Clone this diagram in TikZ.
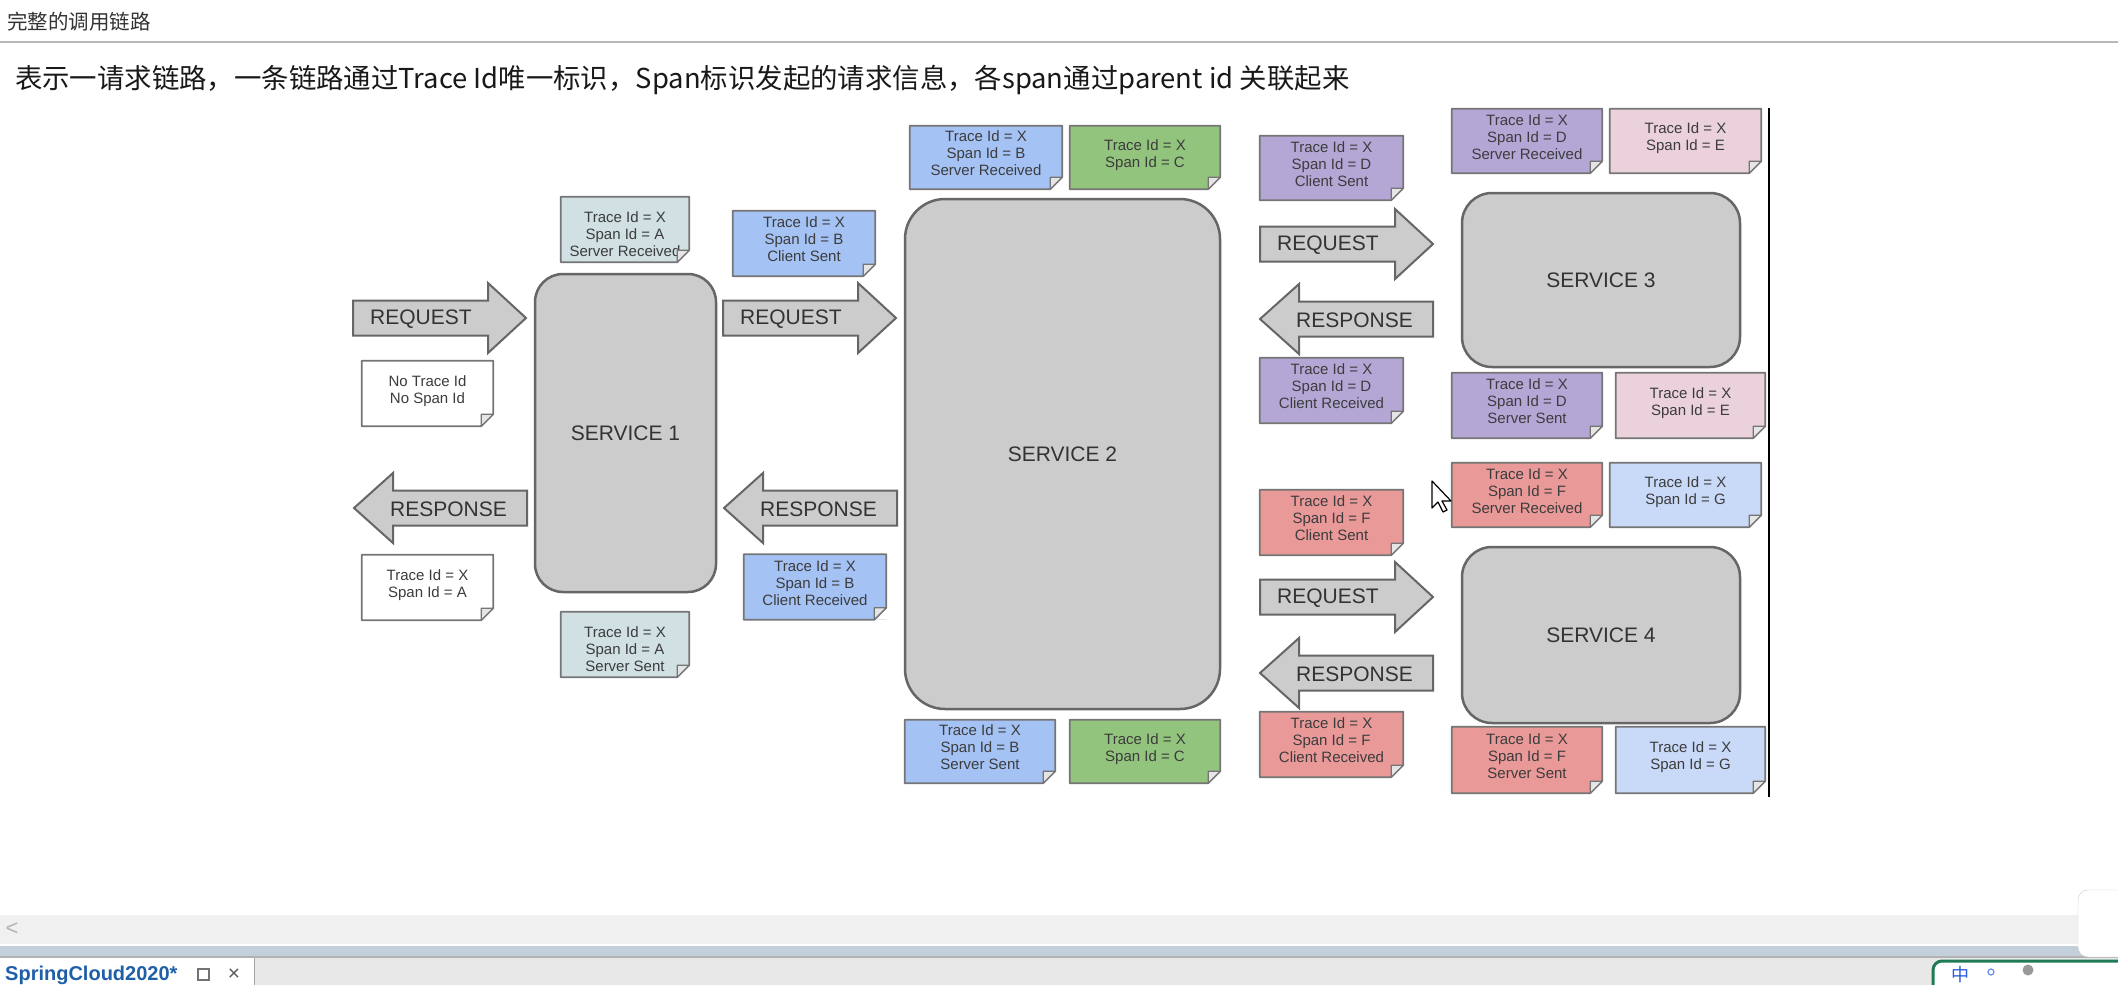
\documentclass[tikz,border=0pt]{standalone}
\usepackage{fontspec}
\setmainfont{Liberation Sans}
\newfontfamily\cjkfont{Noto Sans CJK SC}
\usepackage{tikz}
\usetikzlibrary{calc}

\definecolor{servfill}{HTML}{CCCCCC}
\definecolor{servline}{HTML}{666666}
\definecolor{labeltext}{HTML}{333333}
\definecolor{notetext}{HTML}{3C3C3C}
\definecolor{spanA}{HTML}{D0E0E3}
\definecolor{spanB}{HTML}{A4C2F4}
\definecolor{spanC}{HTML}{93C47D}
\definecolor{spanD}{HTML}{B4A7D6}
\definecolor{spanE}{HTML}{EAD1DC}
\definecolor{spanF}{HTML}{EA9999}
\definecolor{spanG}{HTML}{C9DAF8}
\definecolor{tabblue}{HTML}{1F5FA8}
\definecolor{bandblue}{HTML}{C3CFDB}
\definecolor{imegreen}{HTML}{1F7A55}
\definecolor{imeblue}{HTML}{2A5BD7}

\tikzset{
  service/.style={draw=servline, line width=2.5pt, fill=servfill, text=labeltext,
    font=\fontsize{21}{25}\selectfont},
  spanbox/.style={fill=#1, inner sep=0pt, align=center, text=notetext, text depth=8pt,
    font=\fontsize{15}{17}\selectfont},
  lowtext/.style={text depth=0pt, text height=53pt},
  blockarrow/.style={draw=servline, line width=2pt, fill=servfill},
  arrowlabel/.style={inner sep=0pt, text=labeltext, font=\fontsize{21}{25}\selectfont},
}

% span note with a folded corner: [extra options], name, colour, centre, width, height, text
\newcommand\spannote[7][]{%
  \node[spanbox=#3, minimum width=#5pt, minimum height=#6pt, #1] (#2) at (#4) {#7};
  \path[fill=white] ($(#2.south east)+(-12,0)$) -- (#2.south east) -- ($(#2.south east)+(0,-12)$) -- cycle;
  \path[draw=servline!90, line width=1.8pt, line join=round]
    (#2.north west) -- (#2.north east) -- ($(#2.south east)+(0,-12)$)
    -- ($(#2.south east)+(-12,0)$) -- (#2.south west) -- cycle;
  \path[draw=servline!90, fill=white!80!gray, line width=1.2pt, line join=round]
    ($(#2.south east)+(0,-12)$) -- ($(#2.south east)+(-12,-12)$) -- ($(#2.south east)+(-12,0)$) -- cycle;
}
% block arrows: right one from its tail centre, left one from its tip centre
\newcommand\rightblock[1]{\path[blockarrow] (#1) ++(0,-17.5) -- ++(135,0) -- ++(0,-17.5)
  -- ++(38,35) -- ++(-38,35) -- ++(0,-17.5) -- ++(-135,0) -- cycle;}
\newcommand\leftblock[1]{\path[blockarrow] (#1) -- ++(39,-35) -- ++(0,17.5) -- ++(134,0)
  -- ++(0,35) -- ++(-134,0) -- ++(0,17.5) -- cycle;}

\begin{document}
\begin{tikzpicture}[x=1pt,y=-1pt]
\useasboundingbox (0,0) rectangle (2118,985);
\path[fill=white] (0,0) rectangle (2118,985);

% page heading:
\node[anchor=west, inner sep=0pt, text=labeltext, font=\cjkfont\fontsize{20.5}{24}\selectfont] (title) at (7,22) {完整的调用链路};
\path[draw=gray!55, line width=2pt] (0,42) -- (2118,42);
\node[anchor=west, inner sep=0pt, text=black!90, font=\cjkfont\fontsize{27.4}{32}\selectfont] (desc) at (15,80)
  {表示一请求链路，一条链路通过Trace Id唯一标识，Span标识发起的请求信息，各span通过parent id 关联起来};

% service 1:
\node[service, minimum width=181pt, minimum height=318pt, rounded corners=28pt] (s1) at (625.5,433) {SERVICE 1};
\coordinate (req1) at (353,318);
\coordinate (res1) at (354,508);
\rightblock{req1}
\leftblock{res1}
\node[arrowlabel, anchor=west] (req1txt) at ($(req1)+(17,1)$) {REQUEST};
\node[arrowlabel, anchor=east] (res1txt) at ($(res1)+(153,1)$) {RESPONSE};
\spannote{n0}{white}{427.5,393.5}{131}{65}{No Trace Id\\No Span Id}
\spannote{n1}{white}{427.5,587.5}{131}{65}{Trace Id = X\\Span Id = A}
\spannote[lowtext]{sra}{spanA}{625,229.5}{128}{65}{Trace Id = X\\Span Id = A\\Server Received}
\spannote[lowtext]{ssa}{spanA}{625,644.5}{128}{65}{Trace Id = X\\Span Id = A\\Server Sent}

% service 2:
\node[service, minimum width=315pt, minimum height=510pt, rounded corners=40pt] (s2) at (1062.5,454) {SERVICE 2};
\coordinate (req2) at (723,318);
\coordinate (res2) at (724,508);
\rightblock{req2}
\leftblock{res2}
\node[arrowlabel, anchor=west] (req2txt) at ($(req2)+(17,1)$) {REQUEST};
\node[arrowlabel, anchor=east] (res2txt) at ($(res2)+(153,1)$) {RESPONSE};
\spannote{csb}{spanB}{804,243.5}{142}{65}{Trace Id = X\\Span Id = B\\Client Sent}
\spannote{crb}{spanB}{815,587}{142}{65}{Trace Id = X\\Span Id = B\\Client Received}
\spannote{srb}{spanB}{986,157.5}{152}{63}{Trace Id = X\\Span Id = B\\Server Received}
\spannote{c1}{spanC}{1145,157.5}{150}{63}{Trace Id = X\\Span Id = C}
\spannote{ssb}{spanB}{980,751.5}{150}{63}{Trace Id = X\\Span Id = B\\Server Sent}
\spannote{c2}{spanC}{1145,751.5}{150}{63}{Trace Id = X\\Span Id = C}

% service 3:
\node[service, minimum width=278pt, minimum height=174pt, rounded corners=30pt] (s3) at (1601,280) {SERVICE 3};
\coordinate (req3) at (1260,244);
\coordinate (res3) at (1260,319);
\rightblock{req3}
\leftblock{res3}
\node[arrowlabel, anchor=west] (req3txt) at ($(req3)+(17,1)$) {REQUEST};
\node[arrowlabel, anchor=east] (res3txt) at ($(res3)+(153,1)$) {RESPONSE};
\spannote{csd}{spanD}{1331.5,168}{143}{64}{Trace Id = X\\Span Id = D\\Client Sent}
\spannote{crd}{spanD}{1331.5,390.5}{143}{65}{Trace Id = X\\Span Id = D\\Client Received}
\spannote{srd}{spanD}{1527,141}{150}{64}{Trace Id = X\\Span Id = D\\Server Received}
\spannote{e1}{spanE}{1685.5,141}{151}{64}{Trace Id = X\\Span Id = E}
\spannote{ssd}{spanD}{1527,405.5}{150}{65}{Trace Id = X\\Span Id = D\\Server Sent}
\spannote{e2}{spanE}{1690.5,405.5}{149}{65}{Trace Id = X\\Span Id = E}

% service 4:
\node[service, minimum width=278pt, minimum height=176pt, rounded corners=30pt] (s4) at (1601,635) {SERVICE 4};
\coordinate (req4) at (1260,597);
\coordinate (res4) at (1260,673);
\rightblock{req4}
\leftblock{res4}
\node[arrowlabel, anchor=west] (req4txt) at ($(req4)+(17,1)$) {REQUEST};
\node[arrowlabel, anchor=east] (res4txt) at ($(res4)+(153,1)$) {RESPONSE};
\spannote{csf}{spanF}{1331.5,522.5}{143}{65}{Trace Id = X\\Span Id = F\\Client Sent}
\spannote{crf}{spanF}{1331.5,744.5}{143}{65}{Trace Id = X\\Span Id = F\\Client Received}
\spannote{srf}{spanF}{1527,495}{150}{64}{Trace Id = X\\Span Id = F\\Server Received}
\spannote{g1}{spanG}{1685.5,495}{151}{64}{Trace Id = X\\Span Id = G}
\spannote{ssf}{spanF}{1527,760}{150}{66}{Trace Id = X\\Span Id = F\\Server Sent}
\spannote{g2}{spanG}{1690.5,760}{149}{66}{Trace Id = X\\Span Id = G}

% right edge of the slide image, mouse pointer
\path[draw=black, line width=2pt] (1769,108) -- (1769,797);
\path[draw=black, fill=white, line width=1.2pt, line join=round] (1432,481) -- ++(0,27) -- ++(6,-6)
  -- ++(5,10) -- ++(4,-2) -- ++(-5,-9) -- ++(9,0) -- cycle;

% window chrome below:
\path[fill=black!6] (0,915) rectangle (2118,944);
\node[inner sep=0pt, text=black!30, font=\fontsize{22}{24}\selectfont] (scrollleft) at (12,929) {\textless};
\path[fill=bandblue] (0,946) rectangle (2118,956);
\path[fill=black!30] (0,956) rectangle (2118,958);
\path[fill=black!9] (0,958) rectangle (2118,985);
\path[fill=white] (0,958) rectangle (254,985);
\path[draw=black!35, line width=1pt] (254,958) -- (254,985);
\node[anchor=west, inner sep=0pt, text=tabblue, font=\bfseries\fontsize{20}{22}\selectfont] (tab) at (5,975) {SpringCloud2020*};
\path[draw=black!55, line width=1.2pt] (198,969) rectangle (209,980);
\node[inner sep=0pt, text=black!65, font=\fontsize{21}{24}\selectfont] (tabclose) at (234,975) {×};
\path[draw=black!20, fill=white, rounded corners=10pt] (2078,890) rectangle (2140,957);
\path[draw=imegreen, line width=3pt, fill=white, rounded corners=9pt] (1933,961) rectangle (2140,1010);
\node[inner sep=0pt, text=imeblue, font=\cjkfont\fontsize{18}{20}\selectfont] (ime) at (1960,975) {中};
\path[draw=imeblue!70, line width=1.2pt] (1991,972) circle (3);
\path[fill=black!40] (2028,970) circle (5.5);
\path[fill=black!40] (2018,985) arc[start angle=180, end angle=0, radius=10];
\end{tikzpicture}
\end{document}
